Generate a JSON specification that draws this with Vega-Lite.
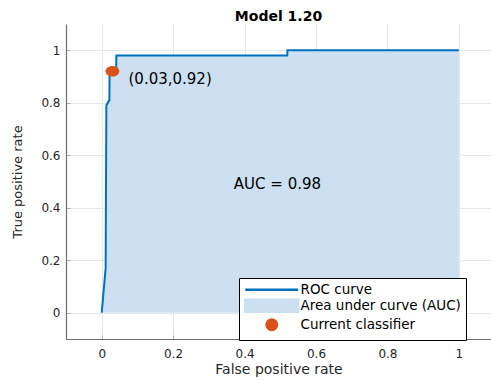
{
  "$schema": "https://vega.github.io/schema/vega-lite/v6.json",
  "autosize": {"type": "none"},
  "width": 425,
  "height": 315,
  "padding": {"left": 66, "top": 24, "right": 0, "bottom": 42},
  "background": "white",
  "title": {"text": "Model 1.20", "fontSize": 14, "font": "DejaVu Sans", "fontWeight": "bold", "color": "#000000", "anchor": "middle", "frame": "group", "offset": 0},
  "config": {
    "view": {"stroke": null},
    "axis": {
      "labelFont": "DejaVu Sans", "labelFontSize": 12, "labelColor": "#262626",
      "titleFont": "DejaVu Sans", "titleFontSize": 13, "titleFontWeight": "normal", "titleColor": "#262626",
      "domainColor": "#6e6e6e", "domainWidth": 1.2,
      "gridColor": "#e6e6e6", "gridWidth": 1,
      "tickColor": "#b0b0b0", "tickSize": -4
    }
  },
  "datasets": {
    "roc": [
      {"step": 1, "fpr": 0.0, "tpr": 0.0},
      {"step": 2, "fpr": 0.011, "tpr": 0.17},
      {"step": 3, "fpr": 0.013, "tpr": 0.79},
      {"step": 4, "fpr": 0.0215, "tpr": 0.81},
      {"step": 5, "fpr": 0.022, "tpr": 0.92},
      {"step": 6, "fpr": 0.0405, "tpr": 0.92},
      {"step": 7, "fpr": 0.041, "tpr": 0.98},
      {"step": 8, "fpr": 0.5195, "tpr": 0.98},
      {"step": 9, "fpr": 0.52, "tpr": 1.0},
      {"step": 10, "fpr": 1.0, "tpr": 1.0}
    ],
    "current": [{"fpr": 0.03, "tpr": 0.92}],
    "notes": [
      {"fpr": 0.075, "tpr": 0.89, "label": "(0.03,0.92)"},
      {"fpr": 0.37, "tpr": 0.49, "label": "AUC = 0.98"}
    ]
  },
  "layer": [
    {
      "data": {"name": "roc"},
      "mark": {"type": "area", "opacity": 1},
      "encoding": {
        "x": {"field": "fpr", "type": "quantitative", "scale": {"domain": [-0.1, 1.09], "nice": false, "zero": false},
              "axis": {"title": "False positive rate", "titleFontSize": 14, "values": [0, 0.2, 0.4, 0.6, 0.8, 1], "format": "~g", "labelPadding": 13, "titlePadding": 3}},
        "y": {"field": "tpr", "type": "quantitative", "scale": {"domain": [-0.1, 1.1], "nice": false, "zero": false},
              "axis": {"title": "True positive rate", "values": [0, 0.2, 0.4, 0.6, 0.8, 1], "format": "~g", "labelPadding": 10, "titlePadding": 16}},
        "y2": {"datum": 0},
        "color": {"datum": "Area under curve (AUC)", "type": "nominal",
          "scale": {"domain": ["ROC curve", "Area under curve (AUC)", "Current classifier"], "range": ["#0072BD", "#CCE0F1", "#D95319"]},
          "legend": {
            "title": null, "orient": "none", "legendX": 173, "legendY": 254,
            "labelFont": "DejaVu Sans", "labelFontSize": 13.5, "labelColor": "#000000",
            "strokeColor": "#000000", "fillColor": "white", "padding": 5, "rowPadding": -3,
            "symbolSize": 100, "symbolOffset": 21, "labelOffset": 22, "labelLimit": 300,
            "encoding": {
              "symbols": {
                "shape": {"value": {"expr": "datum.value === 'ROC curve' ? 'M-5.3,0H5.3' : datum.value === 'Current classifier' ? 'circle' : 'M-5.3,-1.2H5.3V1.2H-5.3Z'"}},
                "size": {"value": {"expr": "datum.value === 'Current classifier' ? 110 : 100"}},
                "fill": {"value": {"expr": "datum.value === 'ROC curve' ? 'transparent' : datum.value === 'Current classifier' ? '#D95319' : '#CCE0F1'"}},
                "stroke": {"value": {"expr": "datum.value === 'ROC curve' ? '#0072BD' : 'transparent'"}},
                "strokeWidth": {"value": 2.5},
                "opacity": {"value": 1},
                "fillOpacity": {"value": 1},
                "strokeOpacity": {"value": 1}
              }
            }
          }
        }
      }
    },
    {
      "data": {"name": "roc"},
      "mark": {"type": "line", "strokeWidth": 2},
      "encoding": {
        "x": {"field": "fpr", "type": "quantitative"},
        "y": {"field": "tpr", "type": "quantitative"},
        "order": {"field": "step", "type": "quantitative"},
        "color": {"datum": "ROC curve", "type": "nominal"}
      }
    },
    {
      "data": {"name": "current"},
      "mark": {"type": "point", "filled": true, "opacity": 1, "size": 190, "shape": "M-1,0A1,0.77 0 1,0 1,0A1,0.77 0 1,0 -1,0Z"},
      "encoding": {
        "x": {"field": "fpr", "type": "quantitative"},
        "y": {"field": "tpr", "type": "quantitative"},
        "color": {"datum": "Current classifier", "type": "nominal"}
      }
    },
    {
      "data": {"name": "notes"},
      "mark": {"type": "text", "align": "left", "baseline": "middle", "font": "DejaVu Sans", "fontSize": 15, "color": "#000000"},
      "encoding": {
        "x": {"field": "fpr", "type": "quantitative"},
        "y": {"field": "tpr", "type": "quantitative"},
        "text": {"field": "label"}
      }
    }
  ]
}
